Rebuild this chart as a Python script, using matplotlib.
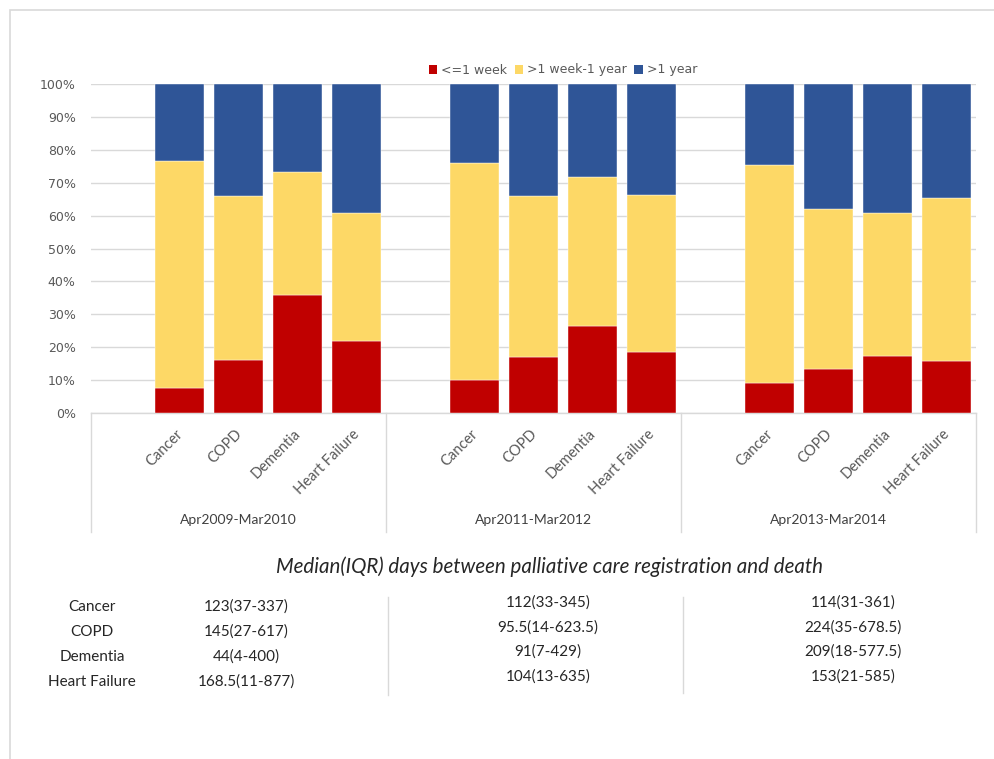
import matplotlib
matplotlib.use("Agg")
import matplotlib.pyplot as plt
import matplotlib.transforms as mtransforms
from matplotlib.patches import Rectangle, Patch
from matplotlib.lines import Line2D

# ---------------- data ----------------
periods = ["Apr2009-Mar2010", "Apr2011-Mar2012", "Apr2013-Mar2014"]
conditions = ["Cancer", "COPD", "Dementia", "Heart Failure"]
series_names = ["<=1 week", ">1 week-1 year", ">1 year"]

# percentages per period, in condition order
le_1week = [[7.5, 16.1, 35.8, 21.9],
            [9.9, 16.9, 26.4, 18.6],
            [9.2, 13.3, 17.4, 15.7]]
week_to_year = [[69.0, 49.8, 37.5, 39.0],
                [66.2, 49.0, 45.2, 47.7],
                [66.1, 48.8, 43.5, 49.8]]
gt_1year = [[23.5, 34.1, 26.7, 39.1],
            [23.9, 34.1, 28.4, 33.7],
            [24.7, 37.9, 39.1, 34.5]]

median_iqr = [["123(37-337)", "145(27-617)", "44(4-400)", "168.5(11-877)"],
              ["112(33-345)", "95.5(14-623.5)", "91(7-429)", "104(13-635)"],
              ["114(31-361)", "224(35-678.5)", "209(18-577.5)", "153(21-585)"]]
table_title = "Median(IQR) days between palliative care registration and death"
ytick_vals = [0, 10, 20, 30, 40, 50, 60, 70, 80, 90, 100]

# ---------------- style ----------------
colors = ["#C00000", "#FDD866", "#2F5597"]
W, H = 994, 759
font_main = ["Lato", "DejaVu Sans"]
plt.rcParams["font.family"] = font_main

fig = plt.figure(figsize=(W / 100, H / 100), dpi=100)

def fx(px):
    return px / W

def fy(py):
    return 1 - py / H

# outer chart border
fig.patches.append(Rectangle((fx(10), fy(1000)), fx(1200), fy(10) - fy(1000),
                             transform=fig.transFigure, fill=False,
                             edgecolor="#D9D9D9", linewidth=1.2))

ax_l, ax_r, ax_t, ax_b = 91, 976, 84, 413
ax = fig.add_axes([fx(ax_l), fy(ax_b), fx(ax_r - ax_l), fy(ax_t) - fy(ax_b)])

n_slots = 5 * len(periods)
bar_w = 0.83
for g in range(len(periods)):
    xs = [g * 5 + 1 + i for i in range(len(conditions))]
    bottoms = [0.0] * len(conditions)
    for s, vals in enumerate([le_1week[g], week_to_year[g], gt_1year[g]]):
        ax.bar(xs, vals, bottom=bottoms, width=bar_w, color=colors[s],
               edgecolor="white", linewidth=0.3, zorder=3)
        bottoms = [b + v for b, v in zip(bottoms, vals)]
    # category labels
    for x, name in zip(xs, conditions):
        ax.annotate(name, xy=(x, 0), xycoords=("data", "axes fraction"),
                    xytext=(1, -19), textcoords="offset pixels",
                    rotation=45, rotation_mode="anchor", ha="right", va="center",
                    fontsize=10.5, color="#595959", family=font_main)
    # group label
    ax.annotate(periods[g], xy=(g * 5 + 2, 0), xycoords=("data", "axes fraction"),
                xytext=(0, -(520 - ax_b)), textcoords="offset pixels",
                ha="center", va="center", fontsize=10, color="#404040",
                family=font_main)

ax.set_xlim(-0.5, n_slots - 0.5)
ax.set_ylim(0, 100)
ax.set_yticks(ytick_vals)
ax.set_yticklabels([f"{v}%" for v in ytick_vals], family=["DejaVu Sans"],
                   fontsize=9, color="#595959")
ax.set_xticks([])
ax.tick_params(axis="y", length=0, pad=11)
ax.grid(axis="y", color="#D9D9D9", linewidth=1, zorder=0)
for sp in ["top", "right", "left"]:
    ax.spines[sp].set_visible(False)
ax.spines["bottom"].set_color("#D9D9D9")
ax.spines["bottom"].set_linewidth(1)

# group separator lines below axis
trans = mtransforms.blended_transform_factory(ax.transData, ax.transAxes)
depth = (532 - ax_b) / (ax_b - ax_t)
for xb in [-0.5, 4.5, 9.5, 14.5]:
    ax.add_line(Line2D([xb, xb], [0, -depth], transform=trans, color="#D9D9D9",
                       linewidth=1, clip_on=False))

# legend
handles = [Patch(facecolor=c, edgecolor="none") for c in colors]
fig.legend(handles, series_names, loc="center", bbox_to_anchor=(fx(563), fy(70)),
           ncol=3, frameon=False, handlelength=0.7, handleheight=0.7,
           handletextpad=0.3, columnspacing=0.6,
           prop={"family": "DejaVu Sans", "size": 9}, labelcolor="#595959")

# table below
fig.text(fx(550), fy(567), table_title, ha="center", va="center",
         fontsize=14.8, style="italic", color="#262626")
col_x = [246, 548, 853]
row_y = [[607, 632, 657, 682], [603, 628, 652, 677], [603, 628, 652, 677]]
for i, name in enumerate(conditions):
    fig.text(fx(92), fy(row_y[0][i]), name, ha="center", va="center",
             fontsize=11, color="#262626")
for g in range(len(periods)):
    for i in range(len(conditions)):
        fig.text(fx(col_x[g]), fy(row_y[g][i]), median_iqr[g][i],
                 ha="center", va="center", fontsize=11, color="#262626")
for xs_, y0, y1 in [(388, 597, 695), (683, 597, 693)]:
    fig.add_artist(Line2D([fx(xs_), fx(xs_)], [fy(y0), fy(y1)],
                          transform=fig.transFigure, color="#D9D9D9", linewidth=1))

fig.savefig("out.png", dpi=100)
